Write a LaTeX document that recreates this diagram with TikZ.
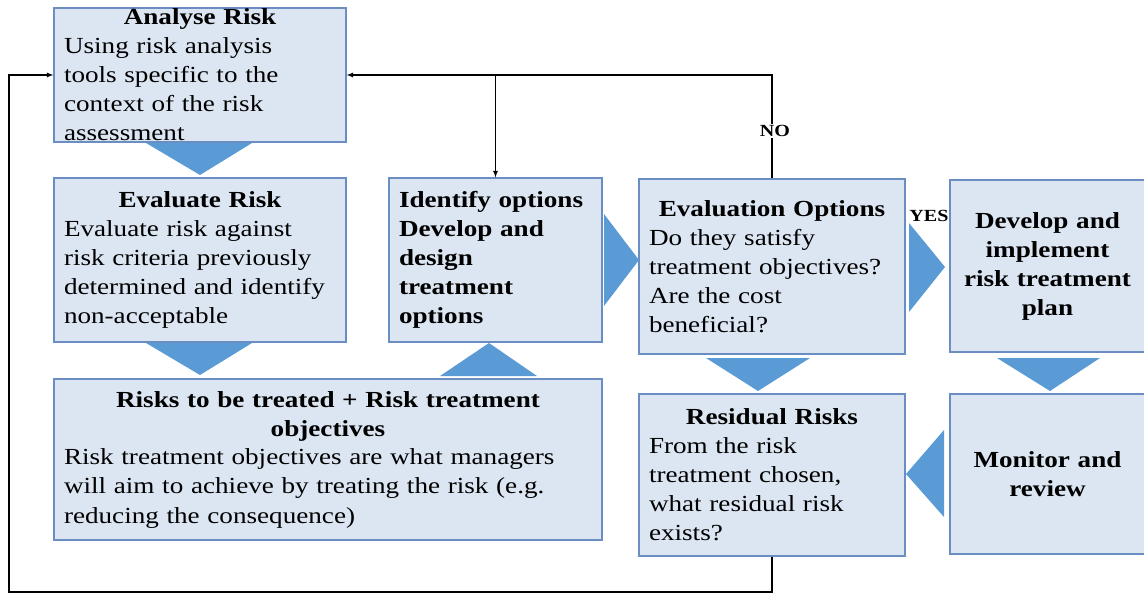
\documentclass[tikz,border=0pt]{standalone}
\usepackage{fontspec}
\setmainfont[FakeStretch=1.18]{Liberation Serif}
\usetikzlibrary{arrows}
\definecolor{boxfill}{HTML}{DCE6F2}
\definecolor{boxline}{HTML}{6A8EC2}
\definecolor{triblue}{HTML}{5B9BD5}
\newcommand{\head}[1]{\makebox[\linewidth]{\textbf{#1}}\\}

\begin{document}
\begin{tikzpicture}[x=1pt, y=-1pt,
  box/.style={draw=boxline, line width=1.3pt, fill=boxfill, align=left, inner xsep=10pt, inner ysep=4pt, font=\fontsize{23}{29}\selectfont},
  arrowtri/.style={fill=triblue},
  flow/.style={line width=1.2pt, -latex},
  lab/.style={font=\fontsize{17}{20}\selectfont\bfseries, inner sep=1pt}]
\useasboundingbox (0,0) rectangle (1144,594);

\node[box, text width=272pt, minimum height=134pt, inner ysep=-2pt] (analyse) at (200,75) {\head{Analyse Risk}Using risk analysis\\tools specific to the\\context of the risk\\assessment};
\node[box, text width=272pt, minimum height=164pt] (evaluate) at (200,260) {\head{Evaluate Risk}Evaluate risk against\\risk criteria previously\\determined and identify\\non-acceptable};
\node[box, text width=193pt, minimum height=164pt, font=\fontsize{23}{29}\selectfont\bfseries] (identify) at (495.5,260) {Identify options\\Develop and\\design\\treatment\\options};
\node[box, text width=528pt, minimum height=161pt] (risks) at (328,459.5) {\head{Risks to be treated + Risk treatment}\head{objectives}Risk treatment objectives are what managers\\will aim to achieve by treating the risk (e.g.\\reducing the consequence)};
\node[box, text width=246pt, minimum height=175pt] (evalopt) at (772,266.5) {\head{Evaluation Options}Do they satisfy\\treatment objectives?\\Are the cost\\beneficial?};
\node[box, text width=175pt, minimum height=172pt, align=center, font=\fontsize{23}{29}\selectfont\bfseries] (develop) at (1047.5,266) {Develop and\\implement\\risk treatment\\plan};
\node[box, text width=246pt, minimum height=162pt] (residual) at (772,475) {\head{Residual Risks}From the risk\\treatment chosen,\\what residual risk\\exists?};
\node[box, text width=175pt, minimum height=160pt, align=center, font=\fontsize{23}{29}\selectfont\bfseries] (monitor) at (1047.5,474) {Monitor and\\review};

% big flow triangles
\fill[arrowtri] (146,143) -- (252,143) -- (200,175) -- cycle;
\fill[arrowtri] (146,343) -- (252,343) -- (200,375) -- cycle;
\fill[arrowtri] (440,376) -- (537,376) -- (489,343) -- cycle;
\fill[arrowtri] (604,214) -- (604,306) -- (639,260) -- cycle;
\fill[arrowtri] (909,223) -- (909,312) -- (945,267) -- cycle;
\fill[arrowtri] (706,358) -- (810,358) -- (758,391) -- cycle;
\fill[arrowtri] (997,358) -- (1100,358) -- (1050,391) -- cycle;
\fill[arrowtri] (944,430) -- (944,517) -- (906,474) -- cycle;

% feedback lines
\coordinate (corner) at (9,592);
\coordinate (split) at (identify.north |- analyse.east);
\draw[flow] (residual.south) |- (corner) |- (analyse.west);
\draw[flow] (evalopt.north) |- (analyse.east);
\draw[flow] (split) -- (identify.north);

\node[lab, fill=white] (no) at (775,131) {NO};
\node[lab] (yes) at (929,216) {YES};
\end{tikzpicture}
\end{document}
